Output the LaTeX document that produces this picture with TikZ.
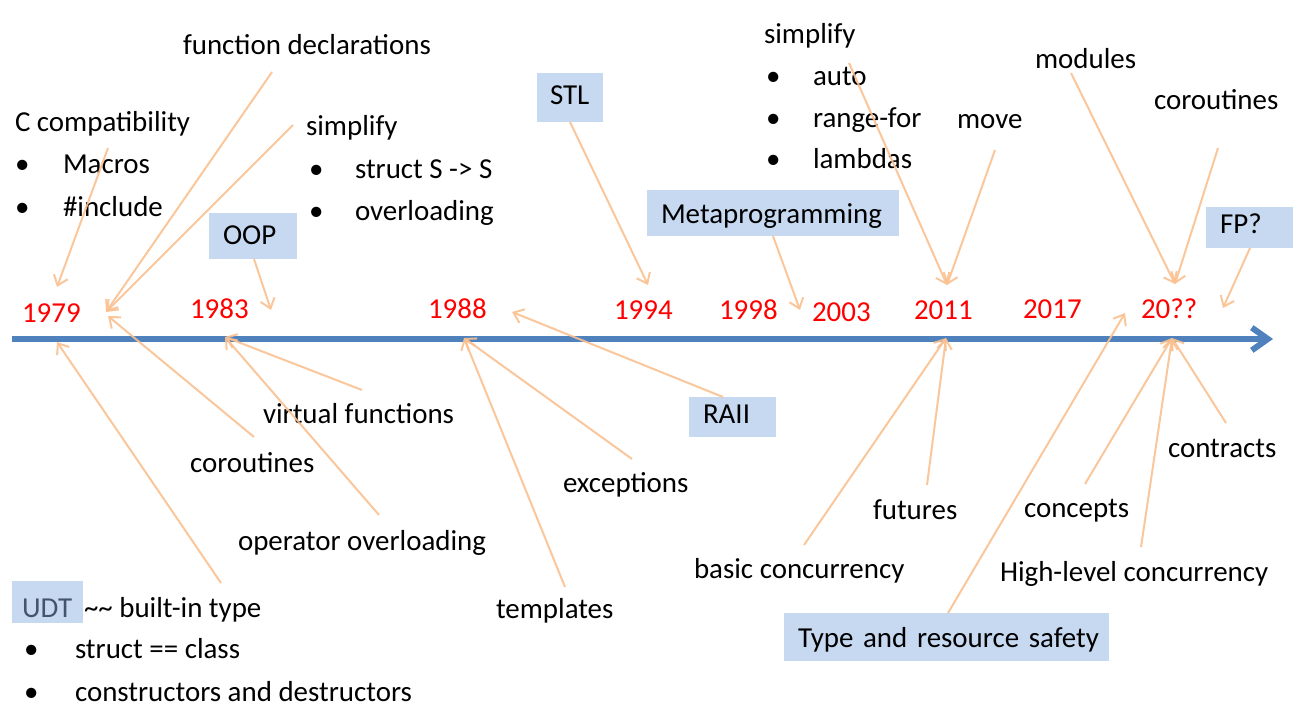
\documentclass[tikz,border=0pt]{standalone}
\usepackage{fontspec}
\setmainfont{Carlito}
\usepackage{xcolor}
\usetikzlibrary{arrows.meta}
\definecolor{boxblue}{HTML}{C6D9F1}
\definecolor{lineblue}{HTML}{4F81BD}
\definecolor{linkorange}{HTML}{FAC090}
\definecolor{yearred}{HTML}{FF0000}
\definecolor{udtgray}{HTML}{44546A}

\begin{document}
\begin{tikzpicture}[x=0.75pt,y=-0.75pt]
            % Styles
            \tikzstyle{txt} = [anchor=base west, inner sep=0pt, outer sep=0pt, font=\fontsize{21.7}{26}\selectfont]
            \tikzstyle{year} = [txt, text=yearred]
            \tikzstyle{tagbox} = [txt, fill=boxblue, inner xsep=10.5pt, inner ysep=0pt, align=left]
            \tikzstyle{ftarrow} = [draw=linkorange, line width=1.5pt, opacity=0.9, -{Straight Barb[length=7pt,width=11pt]}]
            \useasboundingbox (0,0) rectangle (1298,713);
            % Timeline
            \coordinate (tlstart) at (12,339);
            \coordinate (tlend) at (1273,339);
            \draw[line width=4.5pt, lineblue, -{Straight Barb[length=12pt,width=17pt]}] (tlstart) -- (tlend);
            % Years
            \node[year] (y1979) at (22,322) {1979};
            \node[year] (y1983) at (190,318) {1983};
            \node[year] (y1988) at (428,318) {1988};
            \node[year] (y1994) at (614,319) {1994};
            \node[year] (y1998) at (719,319) {1998};
            \node[year] (y2003) at (812,321) {2003};
            \node[year] (y2011) at (914,319) {2011};
            \node[year] (y2017) at (1023,318) {2017};
            \node[year] (yfuture) at (1141,318) {20??};
            % Features above the line
            \node[txt] (fdecl) at (183,55) {function declarations};
            \node[txt] (ccompat) at (15,132) {C compatibility};
            \node[txt] (ccb1) at (15,174) {•};
            \node[txt] (macros) at (63,174) {Macros};
            \node[txt] (ccb2) at (15,216) {•};
            \node[txt] (include) at (63,216) {\#include};
            \node[txt] (simp83) at (306,136) {simplify};
            \node[txt] (sb1) at (309,178) {•};
            \node[txt] (structs) at (355,178) {struct S -> S};
            \node[txt] (sb2) at (309,220) {•};
            \node[txt] (overld) at (355,220) {overloading};
            \node[tagbox, text width=45pt, text height=23.25pt, text depth=11.25pt] (oop) at (209,244) {OOP};
            \node[tagbox, inner xsep=9.75pt, text width=30pt, text height=24pt, text depth=12.75pt] (stl) at (537,105) {STL};
            \node[tagbox, text width=168pt, text height=24.75pt, text depth=9.75pt] (meta) at (647,223) {\mbox{Metaprogramming}};
            \node[txt] (simp11) at (764,44) {simplify};
            \node[txt] (ab1) at (766,86) {•};
            \node[txt] (auto) at (813,86) {auto};
            \node[txt] (ab2) at (766,128) {•};
            \node[txt] (rfor) at (813,128) {range-for};
            \node[txt] (ab3) at (766,169) {•};
            \node[txt] (lambdas) at (813,169) {lambdas};
            \node[txt] (move) at (957,129) {move};
            \node[txt] (modules) at (1035,69) {modules};
            \node[txt] (corotop) at (1154,110) {coroutines};
            \node[tagbox, text width=44.25pt, text height=19.5pt, text depth=11.25pt] (fp) at (1206,233) {FP?};
            % Features below the line
            \node[txt] (virtual) at (263,423) {virtual functions};
            \node[txt] (corobot) at (190,472) {coroutines};
            \node[txt] (opover) at (238,550) {operator overloading};
            \node[tagbox, inner xsep=7.5pt, text width=38.25pt, text height=27pt, text depth=4.5pt, text=udtgray] (udt) at (12,617) {UDT};
            \node[txt] (builtin) at (84,617) {\textasciitilde\textasciitilde{} built-in type};
            \node[txt] (ub1) at (24,658) {•};
            \node[txt] (structcls) at (75,658) {struct == class};
            \node[txt] (ub2) at (24,701) {•};
            \node[txt] (ctors) at (75,701) {constructors and destructors};
            \node[txt] (templates) at (496,618) {templates};
            \node[txt] (except) at (563,492) {exceptions};
            \node[tagbox, text width=44.25pt, text height=19.5pt, text depth=10.5pt] (raii) at (689,423) {RAII};
            \node[txt] (basicconc) at (694,578) {basic concurrency};
            \node[txt] (futures) at (873,519) {futures};
            \node[txt] (concepts) at (1024,517) {concepts};
            \node[txt] (hlconc) at (1000,581) {High-level concurrency};
            \node[txt] (contracts) at (1168,457) {contracts};
            \node[tagbox, text width=222.75pt, text height=25.5pt, text depth=10.5pt] (safety) at (784,647) {\mbox{Type and resource safety}};
            % Arrow ends
            \coordinate (ccompat-s) at (108,148);
            \coordinate (fdecl-s) at (272,72);
            \coordinate (simp83-s) at (293,125);
            \coordinate (oop-s) at (254,259);
            \coordinate (stl-s) at (570,122);
            \coordinate (meta-s) at (773,236);
            \coordinate (simp11-s) at (849,63);
            \coordinate (move-s) at (995,150);
            \coordinate (modules-s) at (1071,73);
            \coordinate (corotop-s) at (1218,148);
            \coordinate (fp-s) at (1250,248);
            \coordinate (raii-s) at (723,397);
            \coordinate (udt-s) at (221,583);
            \coordinate (corobot-s) at (254,437);
            \coordinate (virtual-s) at (362,390);
            \coordinate (opover-s) at (379,515);
            \coordinate (templates-s) at (565,587);
            \coordinate (except-s) at (632,459);
            \coordinate (basicconc-s) at (804,545);
            \coordinate (futures-s) at (927,485);
            \coordinate (safety-s) at (948,613);
            \coordinate (concepts-s) at (1085,484);
            \coordinate (hlconc-s) at (1141,547);
            \coordinate (contracts-s) at (1226,423);
            \coordinate (t1979a) at (57,287);
            \coordinate (t1979b) at (106,312);
            \coordinate (t1979c) at (108,316);
            \coordinate (t1979d) at (57,342);
            \coordinate (t1983a) at (271,310);
            \coordinate (t1983b) at (225,337);
            \coordinate (t1988a) at (512,312);
            \coordinate (t1988b) at (464,338);
            \coordinate (t1994) at (648,285);
            \coordinate (t2003) at (800,310);
            \coordinate (t2011a) at (947,285);
            \coordinate (t2011b) at (946,338);
            \coordinate (t2017) at (1125,313);
            \coordinate (tfuturea) at (1175,284);
            \coordinate (tfutureb) at (1223,308);
            \coordinate (tfuturec) at (1172,338);
            % Connections
            \draw[ftarrow] (ccompat-s) -- (t1979a);
            \draw[ftarrow] (fdecl-s) -- (t1979b);
            \draw[ftarrow] (simp83-s) -- (t1979b);
            \draw[ftarrow] (corobot-s) -- (t1979c);
            \draw[ftarrow] (udt-s) -- (t1979d);
            \draw[ftarrow] (oop-s) -- (t1983a);
            \draw[ftarrow] (virtual-s) -- (t1983b);
            \draw[ftarrow] (opover-s) -- (t1983b);
            \draw[ftarrow] (raii-s) -- (t1988a);
            \draw[ftarrow] (templates-s) -- (t1988b);
            \draw[ftarrow] (except-s) -- (t1988b);
            \draw[ftarrow] (stl-s) -- (t1994);
            \draw[ftarrow] (meta-s) -- (t2003);
            \draw[ftarrow] (simp11-s) -- (t2011a);
            \draw[ftarrow] (move-s) -- (t2011a);
            \draw[ftarrow] (basicconc-s) -- (t2011b);
            \draw[ftarrow] (futures-s) -- (t2011b);
            \draw[ftarrow] (safety-s) -- (t2017);
            \draw[ftarrow] (modules-s) -- (tfuturea);
            \draw[ftarrow] (corotop-s) -- (tfuturea);
            \draw[ftarrow] (fp-s) -- (tfutureb);
            \draw[ftarrow] (concepts-s) -- (tfuturec);
            \draw[ftarrow] (hlconc-s) -- (tfuturec);
            \draw[ftarrow] (contracts-s) -- (tfuturec);
\end{tikzpicture}
\end{document}
